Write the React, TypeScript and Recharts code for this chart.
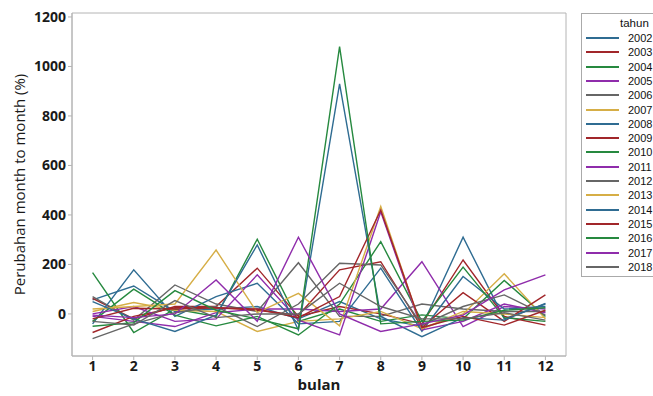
import React from "react";
import { LineChart, Line, XAxis, YAxis, ReferenceArea } from "recharts";

const months = [1, 2, 3, 4, 5, 6, 7, 8, 9, 10, 11, 12];
const yTicks = [0, 200, 400, 600, 800, 1000, 1200];

const years = ["2002", "2003", "2004", "2005", "2006", "2007", "2008", "2009", "2010", "2011", "2012", "2013", "2014", "2015", "2016", "2017", "2018"];

const palette = ["#2f6c92", "#a1262a", "#26893f", "#8f2cab", "#666666", "#d6ae46"];

const s2002 = [57, 113, 10, 20, 30, -20, 50, -20, -50, 310, -20, 40];
const s2003 = [63, -20, 30, 30, 185, -10, 30, 0, -40, 218, -10, -45];
const s2004 = [167, -75, 20, -10, 302, -30, 20, -30, -4, -20, 135, -10];
const s2005 = [-10, -30, -51, 5, 20, 20, 10, 20, 211, -51, 30, 20];
const s2006 = [70, -25, 117, 40, 10, 207, -10, -10, 40, 20, 10, 10];
const s2007 = [10, 46, 15, 10, -71, -30, -20, 10, -60, 0, 162, -20];
const s2008 = [-40, 178, -10, 70, 124, -40, -30, 185, -70, 151, 20, 30];
const s2009 = [-75, -10, 25, 25, 15, -5, 178, 211, -55, 86, -30, 77];
const s2010 = [-30, 100, -5, -48, -10, -85, 40, 292, -30, 189, -15, -30];
const s2011 = [0, 30, -30, -20, 158, -25, -85, 413, -65, -30, 40, 5];
const s2012 = [-100, -40, 5, 30, -51, 40, 205, 198, -45, 30, 77, -5];
const s2013 = [20, 30, 40, 258, 5, 83, -48, 434, -60, 10, 0, -15];
const s2014 = [50, -20, -71, -5, 279, -65, 930, -10, -92, -15, -25, 43];
const s2015 = [-20, 23, 20, 25, 20, -15, 70, 420, -55, -10, -45, 15];
const s2016 = [-50, -35, 94, 15, -20, -60, 1080, -40, -30, -25, 15, 25];
const s2017 = [-5, -15, 0, 137, -30, 310, 0, -71, -40, -5, 97, 158];
const s2018 = [-30, -45, 54, -15, 0, 0, 124, 30, -20, -20, 5, -25];

const seriesValues = [s2002, s2003, s2004, s2005, s2006, s2007, s2008, s2009, s2010, s2011, s2012, s2013, s2014, s2015, s2016, s2017, s2018];

const data = months.map((m, i) => {
  const row: Record<string, number> = { bulan: m };
  years.forEach((y, k) => {
    row["y" + y] = seriesValues[k][i];
  });
  return row;
});

const FONT = "'Open Sans', 'Noto Sans', sans-serif";
const LFONT = "'Liberation Sans', Arial, sans-serif";
const AXIS = "#b4b4b4";

export default function App() {
  return (
    <div style={{ position: "absolute", left: 0, top: 0, width: 653, height: 396, background: "#fff", fontFamily: FONT, overflow: "hidden" }}>
      <LineChart width={653} height={396} data={data} margin={{ top: 13, right: 87, bottom: 0, left: 0 }}>
        <ReferenceArea x1={0.5} x2={12.5} y1={-170} y2={1216} fill="none" stroke={AXIS} strokeWidth={1} ifOverflow="visible" />
        <XAxis
          dataKey="bulan"
          type="number"
          domain={[0.5, 12.5]}
          ticks={months}
          allowDataOverflow
          height={40}
          tickSize={4}
          tickMargin={1}
          stroke={AXIS}
          tick={{ fill: "#1a1a1a", fontSize: 14, fontWeight: 700, fontFamily: FONT }}
          label={{ value: "bulan", position: "insideBottom", offset: 6, fill: "#1a1a1a", fontSize: 15, fontWeight: 700, fontFamily: FONT }}
        />
        <YAxis
          type="number"
          domain={[-170, 1216]}
          ticks={yTicks}
          allowDataOverflow
          width={72}
          tickSize={4}
          tickMargin={2}
          stroke={AXIS}
          tick={{ fill: "#1a1a1a", fontSize: 14, fontWeight: 700, fontFamily: FONT }}
          label={{ value: "Perubahan month to month (%)", angle: -90, position: "insideLeft", offset: 20, fill: "#1a1a1a", fontSize: 15, fontFamily: FONT, style: { textAnchor: "middle" } }}
        />
        {years.map((y, k) => (
          <Line
            key={y}
            type="linear"
            dataKey={"y" + y}
            stroke={palette[k % palette.length]}
            strokeWidth={1.4}
            dot={false}
            isAnimationActive={false}
          />
        ))}
      </LineChart>
      <div style={{ position: "absolute", left: 581, top: 13, width: 90, height: 264, border: "1px solid #aaaaaa", boxSizing: "border-box", background: "#fff" }}>
        <div style={{ position: "absolute", left: 38, top: 2, fontSize: 11.5, color: "#111", lineHeight: "14px", fontFamily: LFONT }}>tahun</div>
        {years.map((y, k) => (
          <div key={y} style={{ position: "absolute", left: 4, top: 17 + k * 14.3, height: 14, width: 70 }}>
            <div style={{ position: "absolute", left: 0, top: 6, width: 33, height: 2, background: palette[k % palette.length] }} />
            <div style={{ position: "absolute", left: 42, top: 0, fontSize: 11, lineHeight: "14px", color: "#111", fontFamily: LFONT }}>{y}</div>
          </div>
        ))}
      </div>
    </div>
  );
}
